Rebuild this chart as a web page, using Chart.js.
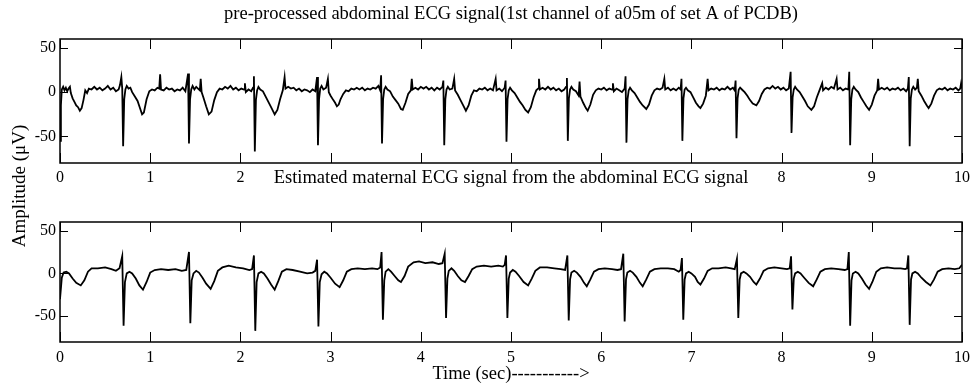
<!DOCTYPE html>
<html>
<head>
<meta charset="utf-8">
<script src="https://cdn.jsdelivr.net/npm/chart.js@4.4.1/dist/chart.umd.min.js"></script>
<style>
  body { margin: 0; background: #fff; }
  #wrap { position: relative; width: 979px; height: 385px; }
  canvas { position: absolute; left: 0; top: 0; }
</style>
</head>
<body>
<div id="wrap">
  <canvas id="topCanvas" width="979" height="385"></canvas>
  <canvas id="bottomCanvas" width="979" height="385"></canvas>
</div>
<script>
// [time (s), amplitude (uV)]
const abdominalEcg = [
  [0,-55],[0.01,-15],[0.02,3],[0.035,6],[0.05,2],[0.065,5],[0.08,1],[0.095,4],[0.11,6],[0.12,-1],[0.14,-7],[0.16,-11],[0.18,-15],[0.20,-17],[0.22,-21],[0.24,-18],[0.26,-9],[0.28,2],[0.30,-1],[0.32,4],[0.35,3],[0.38,6],[0.41,3],[0.44,5],[0.47,2],[0.50,4],[0.53,7],[0.56,3],[0.59,5],[0.62,1],[0.65,3],[0.665,8],
  [0.68,17],[0.69,4],[0.70,-61],[0.712,-8],[0.725,3],[0.74,7],[0.76,4],[0.78,5],[0.80,0],[0.83,-5],[0.86,-10],[0.89,-19],[0.91,-25],[0.93,-23],[0.96,-8],[0.99,1],[1.02,3],[1.05,2],[1.08,5],[1.10,4],[1.11,20],[1.12,3],[1.15,2],[1.18,5],[1.21,3],[1.24,4],[1.27,1],[1.30,3],[1.33,2],[1.36,5],[1.39,1],
  [1.42,21],[1.43,-58],[1.442,-8],[1.455,3],[1.47,7],[1.49,3],[1.51,6],[1.55,2],[1.56,15],[1.57,0],[1.59,-6],[1.62,-16],[1.65,-25],[1.68,-22],[1.71,-9],[1.74,0],[1.77,4],[1.80,3],[1.83,6],[1.86,4],[1.89,7],[1.92,3],[1.95,5],[1.98,2],[2.01,4],[2.04,3],[2.05,10],[2.06,0],[2.09,3],[2.12,1],[2.14,5],
  [2.15,18],[2.16,-67],[2.172,-9],[2.185,2],[2.20,6],[2.22,3],[2.25,1],[2.28,-5],[2.31,-11],[2.34,-17],[2.38,-25],[2.41,-20],[2.44,-8],[2.47,2],[2.49,17],[2.50,4],[2.53,6],[2.56,4],[2.59,5],[2.62,2],[2.65,4],[2.68,1],[2.71,3],[2.74,2],[2.77,0],[2.80,3],[2.83,1],
  [2.85,17],[2.86,-60],[2.872,-8],[2.885,4],[2.90,7],[2.92,3],[2.95,5],[2.97,15],[2.98,0],[3.00,-4],[3.03,-9],[3.05,-12],[3.07,-16],[3.09,-14],[3.11,-8],[3.14,-2],[3.17,2],[3.20,1],[3.23,4],[3.26,3],[3.29,5],[3.32,3],[3.35,5],[3.38,2],[3.41,4],[3.44,3],[3.47,5],[3.50,4],[3.53,7],[3.55,2],
  [3.56,19],[3.57,-58],[3.582,-8],[3.595,3],[3.61,6],[3.63,3],[3.66,1],[3.69,-5],[3.72,-9],[3.75,-13],[3.78,-19],[3.80,-20],[3.83,-12],[3.86,-2],[3.89,2],[3.90,15],[3.91,3],[3.94,5],[3.97,3],[4.00,6],[4.03,4],[4.06,6],[4.09,3],[4.12,5],[4.15,2],[4.18,5],[4.21,3],[4.24,6],
  [4.25,13],[4.26,-60],[4.272,-8],[4.285,3],[4.30,6],[4.32,3],[4.35,4],[4.37,15],[4.38,2],[4.41,-3],[4.44,-9],[4.47,-15],[4.50,-21],[4.53,-15],[4.56,-4],[4.59,2],[4.62,1],[4.65,4],[4.68,3],[4.71,5],[4.74,2],[4.77,4],[4.80,2],[4.83,15],[4.84,2],[4.87,4],[4.90,1],[4.93,5],
  [4.94,13],[4.95,-56],[4.962,-8],[4.975,2],[4.99,5],[5.01,2],[5.04,-1],[5.07,-6],[5.10,-11],[5.13,-15],[5.16,-20],[5.19,-23],[5.22,-17],[5.25,-6],[5.28,2],[5.30,4],[5.31,15],[5.32,3],[5.35,5],[5.38,3],[5.41,6],[5.44,3],[5.47,5],[5.50,2],[5.53,4],[5.56,1],[5.59,3],[5.61,6],
  [5.62,16],[5.63,-55],[5.642,-7],[5.655,3],[5.67,6],[5.69,3],[5.72,1],[5.75,-4],[5.76,12],[5.77,-5],[5.80,-12],[5.83,-18],[5.85,-21],[5.88,-14],[5.91,-3],[5.94,2],[5.97,4],[6.00,3],[6.03,5],[6.06,2],[6.09,4],[6.12,3],[6.13,10],[6.14,1],[6.17,4],[6.20,2],[6.23,0],[6.26,4],
  [6.27,18],[6.28,-57],[6.292,-8],[6.305,2],[6.32,5],[6.34,2],[6.37,-1],[6.40,-6],[6.43,-11],[6.46,-15],[6.50,-19],[6.53,-14],[6.56,-4],[6.59,2],[6.62,4],[6.65,3],[6.68,5],[6.70,15],[6.71,3],[6.74,5],[6.77,2],[6.80,4],[6.83,2],[6.86,5],[6.88,3],
  [6.89,15],[6.90,-55],[6.912,-7],[6.925,3],[6.94,5],[6.96,2],[6.99,0],[7.02,-6],[7.05,-12],[7.08,-16],[7.10,-18],[7.13,-13],[7.16,-4],[7.18,15],[7.19,2],[7.22,4],[7.25,3],[7.28,5],[7.31,2],[7.34,4],[7.37,3],[7.40,6],[7.43,3],[7.46,5],[7.48,2],
  [7.49,13],[7.50,-52],[7.512,-7],[7.525,3],[7.54,5],[7.56,3],[7.59,0],[7.62,-4],[7.65,-9],[7.68,-13],[7.72,-15],[7.75,-10],[7.78,-2],[7.81,3],[7.84,5],[7.87,4],[7.90,7],[7.93,4],[7.96,6],[7.99,3],[8.02,5],[8.05,2],[8.08,4],
  [8.10,23],[8.11,-46],[8.122,-6],[8.135,3],[8.15,6],[8.17,3],[8.20,0],[8.23,-5],[8.26,-10],[8.29,-16],[8.33,-20],[8.36,-16],[8.39,-6],[8.42,2],[8.45,10],[8.46,2],[8.49,5],[8.52,3],[8.55,6],[8.58,4],[8.61,15],[8.62,3],[8.65,5],[8.68,2],[8.71,4],[8.74,3],
  [8.75,23],[8.76,-60],[8.772,-8],[8.785,3],[8.80,6],[8.82,3],[8.85,0],[8.88,-6],[8.91,-11],[8.94,-16],[8.97,-20],[9.00,-14],[9.03,-4],[9.06,2],[9.07,15],[9.08,3],[9.11,5],[9.14,3],[9.17,5],[9.20,2],[9.23,4],[9.26,3],[9.29,5],[9.32,2],[9.35,4],[9.38,1],[9.40,4],
  [9.41,17],[9.42,-61],[9.432,-7],[9.445,3],[9.46,6],[9.48,3],[9.50,5],[9.51,15],[9.52,1],[9.55,-4],[9.58,-10],[9.61,-15],[9.63,-18],[9.66,-13],[9.69,-4],[9.72,2],[9.75,4],[9.78,3],[9.81,5],[9.84,2],[9.87,4],[9.90,3],[9.93,5],[9.96,2],[9.98,4],[9.99,10],[10,4]
];

const maternalEcg = [
  [0,-30],[0.02,-5],[0.04,1],[0.07,2],[0.10,0],[0.14,-6],[0.18,-11],[0.23,-14],[0.27,-8],[0.31,2],[0.35,6],[0.42,6],[0.50,7],[0.57,5],[0.62,3],[0.66,6],
  [0.69,20],[0.705,-61],[0.72,-10],[0.74,0],[0.77,2],[0.80,0],[0.84,-6],[0.88,-14],[0.92,-19],[0.96,-10],[1.00,1],[1.05,4],[1.12,5],[1.20,4],[1.28,5],[1.35,3],[1.40,4],
  [1.43,25],[1.445,-58],[1.46,-8],[1.48,0],[1.51,3],[1.54,1],[1.58,-5],[1.62,-12],[1.67,-18],[1.71,-9],[1.75,3],[1.80,7],[1.87,9],[1.95,7],[2.03,6],[2.10,4],[2.13,5],
  [2.15,21],[2.165,-67],[2.18,-10],[2.20,0],[2.23,2],[2.26,0],[2.30,-6],[2.34,-13],[2.38,-19],[2.42,-9],[2.46,2],[2.51,5],[2.58,4],[2.66,2],[2.74,0],[2.80,1],[2.83,3],
  [2.85,16],[2.865,-62],[2.88,-10],[2.90,-1],[2.93,2],[2.96,0],[3.00,-5],[3.05,-12],[3.10,-16],[3.14,-8],[3.18,2],[3.23,5],[3.30,6],[3.38,5],[3.46,6],[3.52,5],[3.55,7],
  [3.565,25],[3.58,-54],[3.595,-8],[3.61,2],[3.64,5],[3.67,2],[3.71,-3],[3.75,-8],[3.78,-10],[3.82,-3],[3.86,8],[3.92,13],[3.98,14],[4.05,12],[4.13,13],[4.20,11],[4.24,12],
  [4.265,23],[4.28,-52],[4.295,-6],[4.31,3],[4.34,6],[4.37,3],[4.41,-3],[4.45,-8],[4.49,-10],[4.53,-3],[4.57,5],[4.62,8],[4.70,9],[4.78,8],[4.86,9],[4.91,8],[4.93,10],
  [4.945,21],[4.96,-52],[4.975,-6],[4.99,1],[5.02,4],[5.05,2],[5.09,-3],[5.14,-10],[5.19,-14],[5.23,-6],[5.27,3],[5.32,7],[5.40,7],[5.48,6],[5.55,5],[5.60,4],
  [5.625,21],[5.64,-55],[5.655,-7],[5.67,1],[5.70,3],[5.73,1],[5.77,-4],[5.81,-11],[5.84,-15],[5.88,-7],[5.92,2],[5.97,5],[6.04,6],[6.12,5],[6.18,4],[6.22,5],
  [6.245,23],[6.26,-56],[6.275,-7],[6.29,1],[6.32,3],[6.35,1],[6.39,-4],[6.43,-11],[6.46,-15],[6.50,-7],[6.54,2],[6.59,5],[6.66,6],[6.74,6],[6.81,5],[6.86,2],[6.88,4],
  [6.895,18],[6.91,-54],[6.925,-7],[6.94,0],[6.97,2],[7.00,0],[7.04,-4],[7.07,-10],[7.10,-13],[7.14,-6],[7.18,3],[7.23,6],[7.30,6],[7.38,7],[7.44,6],[7.48,5],
  [7.505,17],[7.52,-52],[7.535,-7],[7.55,0],[7.58,2],[7.61,0],[7.65,-4],[7.69,-10],[7.72,-13],[7.76,-6],[7.80,3],[7.85,6],[7.92,7],[8.00,6],[8.06,5],[8.09,6],
  [8.105,20],[8.12,-42],[8.135,-6],[8.15,0],[8.18,2],[8.21,0],[8.25,-5],[8.30,-11],[8.35,-15],[8.39,-7],[8.43,2],[8.48,5],[8.55,6],[8.63,5],[8.70,4],[8.73,5],
  [8.745,25],[8.76,-61],[8.775,-8],[8.79,0],[8.82,2],[8.85,0],[8.89,-6],[8.93,-13],[8.97,-18],[9.01,-9],[9.05,2],[9.10,6],[9.17,7],[9.25,6],[9.32,6],[9.37,5],[9.39,6],
  [9.405,21],[9.42,-60],[9.435,-7],[9.45,0],[9.48,2],[9.51,0],[9.55,-5],[9.60,-10],[9.65,-14],[9.69,-7],[9.73,2],[9.78,5],[9.85,6],[9.92,5],[9.97,6],[10,10]
];

const ampTicks = [-50, 0, 50];
const topTitle = 'pre-processed abdominal ECG signal(1st channel of a05m of set A of PCDB)';
const bottomTitle = 'Estimated maternal ECG signal from the abdominal ECG signal';

const serif = '"Liberation Serif", "Times New Roman", serif';
const titleFont = {family: serif, size: 18.5, weight: 'normal', lineHeight: 1.2};

// box round the plot area with inward ticks on all four sides
const frameTicks = {
  id: 'frameTicks',
  afterDatasetsDraw(chart) {
    const {ctx, chartArea: a, scales: {x, y}} = chart;
    ctx.save();
    ctx.strokeStyle = '#000';
    ctx.lineWidth = 1.5;
    ctx.strokeRect(a.left, a.top, a.right - a.left, a.bottom - a.top);
    ctx.lineWidth = 1;
    ctx.beginPath();
    x.ticks.forEach(t => {
      const px = Math.round(x.getPixelForValue(t.value)) + 0.5;
      ctx.moveTo(px, a.bottom); ctx.lineTo(px, a.bottom - 10);
      ctx.moveTo(px, a.top); ctx.lineTo(px, a.top + 10);
    });
    y.ticks.forEach(t => {
      const py = Math.round(y.getPixelForValue(t.value)) + 0.5;
      ctx.moveTo(a.left, py); ctx.lineTo(a.left + 8, py);
      ctx.moveTo(a.right, py); ctx.lineTo(a.right - 8, py);
    });
    ctx.stroke();
    ctx.restore();
  }
};

// lower panel title sits on a white box, hiding the upper tick labels under it
const titleBackdrop = {
  id: 'titleBackdrop',
  beforeDraw(chart) {
    const {ctx, chartArea: a} = chart;
    ctx.save();
    ctx.font = titleFont.size + 'px ' + serif;
    const w = ctx.measureText(bottomTitle).width;
    const cx = (a.left + a.right) / 2;
    ctx.fillStyle = '#fff';
    ctx.fillRect(cx - w / 2 - 3, 168, w + 6, 20);
    ctx.restore();
  }
};

// shared y label between both panels
const ampLabel = {
  id: 'ampLabel',
  afterDraw(chart) {
    const ctx = chart.ctx;
    ctx.save();
    ctx.translate(20, 186);
    ctx.rotate(-Math.PI / 2);
    ctx.font = '19px ' + serif;
    ctx.fillStyle = '#000';
    ctx.textAlign = 'center';
    ctx.textBaseline = 'middle';
    ctx.fillText('Amplitude (\u03BCV)', 0, 0);
    ctx.restore();
  }
};

function makeChart(canvasId, data, title, opts) {
  return new Chart(document.getElementById(canvasId), {
    type: 'scatter',
    data: {
      datasets: [{
        data: data.map(p => ({x: p[0], y: p[1]})),
        showLine: true,
        borderColor: '#000',
        borderWidth: 1.8,
        pointRadius: 0,
        tension: 0
      }]
    },
    options: {
      responsive: false,
      animation: false,
      devicePixelRatio: 1,
      layout: {padding: opts.padding},
      plugins: {
        legend: {display: false},
        tooltip: {enabled: false},
        title: {
          display: true,
          text: title,
          fullSize: false,
          color: '#000',
          font: titleFont,
          padding: opts.titlePad
        }
      },
      scales: {
        x: {
          type: 'linear',
          min: 0,
          max: 10,
          ticks: {stepSize: 1, color: '#000', padding: opts.tickPad, font: {family: serif, size: 16, lineHeight: 1.2}},
          grid: {display: false, drawTicks: false},
          border: {display: false},
          title: {
            display: !!opts.xTitle,
            text: opts.xTitle || '',
            color: '#000',
            font: {family: serif, size: 18.5, lineHeight: 1.2},
            padding: {top: 0, bottom: 0}
          },
          afterFit: s => { s.height = opts.xHeight; }
        },
        y: {
          type: 'linear',
          min: -80,
          max: 60,
          afterBuildTicks: s => { s.ticks = ampTicks.map(v => ({value: v})); },
          ticks: {color: '#000', padding: 4, font: {family: serif, size: 16}},
          grid: {display: false, drawTicks: false},
          border: {display: false},
          afterFit: s => { s.width = 60; }
        }
      }
    },
    plugins: opts.extra
  });
}

makeChart('topCanvas', abdominalEcg, topTitle, {
  padding: {left: 0, right: 17, top: 0, bottom: 196},
  titlePad: {top: 2.9, bottom: 13.9},
  tickPad: 5.4,
  xHeight: 26,
  extra: [frameTicks]
});

makeChart('bottomCanvas', maternalEcg, bottomTitle, {
  padding: {left: 0, right: 17, top: 160, bottom: 0},
  titlePad: {top: 6.9, bottom: 32.9},
  tickPad: 6.4,
  xHeight: 43,
  xTitle: 'Time (sec)----------->',
  extra: [titleBackdrop, frameTicks, ampLabel]
});
</script>
</body>
</html>
